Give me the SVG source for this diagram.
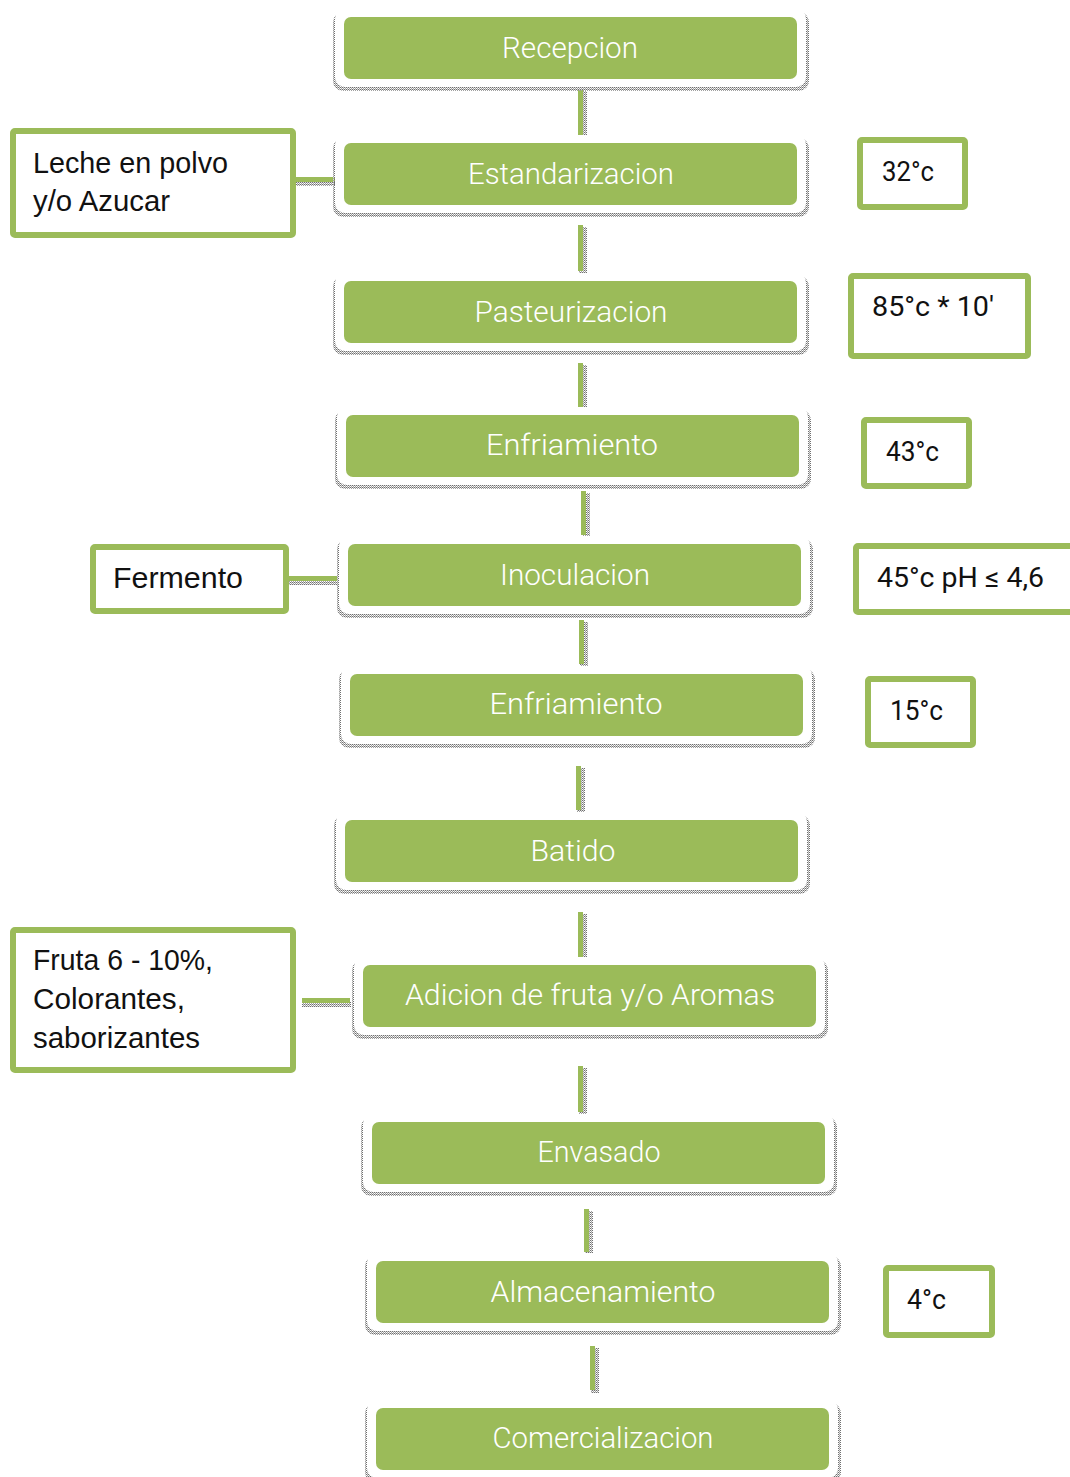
<svg xmlns="http://www.w3.org/2000/svg" width="1070" height="1477" viewBox="0 0 1070 1477">
<defs>
<pattern id="dots" width="2" height="2" patternUnits="userSpaceOnUse">
<rect x="0" y="0" width="1" height="1" fill="#707070"/>
<rect x="1" y="1" width="1" height="1" fill="#a0a0a0"/>
<rect x="1" y="0" width="1" height="1" fill="#d8d8d8"/>
</pattern>
<style>
.shadow{fill:url(#dots);}
.frame{fill:#ffffff;}
.step{fill:#9BBB59;}
.lbl{font-family:Roboto,"Liberation Sans",Arial,sans-serif;font-weight:300;font-size:29px;fill:#ffffff;text-anchor:middle;}
.side{fill:#ffffff;stroke:#9BBB59;stroke-width:6;}
.stxt{font-family:"Liberation Sans",Arial,sans-serif;font-size:29px;fill:#111111;}
.ttxt{font-family:Roboto,"Liberation Sans",Arial,sans-serif;font-size:28px;fill:#111111;}
.bar{fill:#9BBB59;}
</style>
</defs>
<rect width="1070" height="1477" fill="#ffffff"/>

<g id="connectors">
<rect class="shadow" x="579" y="91" width="8" height="47"/><rect class="bar" x="578" y="89" width="5" height="46"/>
<rect class="shadow" x="579" y="227" width="8" height="47"/><rect class="bar" x="578" y="225" width="5" height="46"/>
<rect class="shadow" x="579" y="365" width="8" height="46"/><rect class="bar" x="578" y="363" width="5" height="45"/>
<rect class="shadow" x="582" y="493" width="8" height="45"/><rect class="bar" x="581" y="491" width="5" height="44"/>
<rect class="shadow" x="580" y="622" width="8" height="45"/><rect class="bar" x="579" y="620" width="5" height="44"/>
<rect class="shadow" x="577" y="768" width="8" height="45"/><rect class="bar" x="576" y="766" width="5" height="44"/>
<rect class="shadow" x="579" y="914" width="8" height="46"/><rect class="bar" x="578" y="912" width="5" height="45"/>
<rect class="shadow" x="579" y="1068" width="8" height="47"/><rect class="bar" x="578" y="1066" width="5" height="46"/>
<rect class="shadow" x="585" y="1211" width="8" height="44"/><rect class="bar" x="584" y="1209" width="5" height="43"/>
<rect class="shadow" x="591" y="1348" width="8" height="45"/><rect class="bar" x="590" y="1346" width="5" height="44"/>
<rect class="shadow" x="296" y="180" width="49" height="6"/><rect class="bar" x="296" y="177" width="48" height="5"/>
<rect class="shadow" x="289" y="579" width="49" height="6"/><rect class="bar" x="289" y="576" width="48" height="5"/>
<rect class="shadow" x="302" y="1001" width="49" height="6"/><rect class="bar" x="302" y="998" width="48" height="5"/>
</g>

<g id="n1" transform="translate(344,17)">
<rect class="shadow" x="-11" y="-5" width="476" height="79" rx="10"/>
<rect class="frame" x="-9" y="-8" width="471" height="78" rx="10"/>
<rect class="step" x="0" y="0" width="453" height="62" rx="7"/>
<text class="lbl" x="226" y="41" textLength="136" lengthAdjust="spacingAndGlyphs">Recepcion</text>
</g>
<g id="n2" transform="translate(344,143)">
<rect class="shadow" x="-11" y="-5" width="476" height="79" rx="10"/>
<rect class="frame" x="-9" y="-8" width="471" height="78" rx="10"/>
<rect class="step" x="0" y="0" width="453" height="62" rx="7"/>
<text class="lbl" x="227" y="41" textLength="206" lengthAdjust="spacingAndGlyphs">Estandarizacion</text>
</g>
<g id="n3" transform="translate(344,281)">
<rect class="shadow" x="-11" y="-5" width="476" height="79" rx="10"/>
<rect class="frame" x="-9" y="-8" width="471" height="78" rx="10"/>
<rect class="step" x="0" y="0" width="453" height="62" rx="7"/>
<text class="lbl" x="227" y="41" textLength="193" lengthAdjust="spacingAndGlyphs">Pasteurizacion</text>
</g>
<g id="n4" transform="translate(346,415)">
<rect class="shadow" x="-11" y="-5" width="476" height="79" rx="10"/>
<rect class="frame" x="-9" y="-8" width="471" height="78" rx="10"/>
<rect class="step" x="0" y="0" width="453" height="62" rx="7"/>
<text class="lbl" x="226" y="40" textLength="172" lengthAdjust="spacingAndGlyphs">Enfriamiento</text>
</g>
<g id="n5" transform="translate(348,544)">
<rect class="shadow" x="-11" y="-5" width="476" height="79" rx="10"/>
<rect class="frame" x="-9" y="-8" width="471" height="78" rx="10"/>
<rect class="step" x="0" y="0" width="453" height="62" rx="7"/>
<text class="lbl" x="227" y="41" textLength="150" lengthAdjust="spacingAndGlyphs">Inoculacion</text>
</g>
<g id="n6" transform="translate(350,674)">
<rect class="shadow" x="-11" y="-5" width="476" height="79" rx="10"/>
<rect class="frame" x="-9" y="-8" width="471" height="78" rx="10"/>
<rect class="step" x="0" y="0" width="453" height="62" rx="7"/>
<text class="lbl" x="226" y="40" textLength="173" lengthAdjust="spacingAndGlyphs">Enfriamiento</text>
</g>
<g id="n7" transform="translate(345,820)">
<rect class="shadow" x="-11" y="-5" width="476" height="79" rx="10"/>
<rect class="frame" x="-9" y="-8" width="471" height="78" rx="10"/>
<rect class="step" x="0" y="0" width="453" height="62" rx="7"/>
<text class="lbl" x="228" y="41" textLength="85" lengthAdjust="spacingAndGlyphs">Batido</text>
</g>
<g id="n8" transform="translate(363,965)">
<rect class="shadow" x="-11" y="-5" width="476" height="79" rx="10"/>
<rect class="frame" x="-9" y="-8" width="471" height="78" rx="10"/>
<rect class="step" x="0" y="0" width="453" height="62" rx="7"/>
<text class="lbl" x="227" y="40" textLength="370" lengthAdjust="spacingAndGlyphs">Adicion de fruta  y/o Aromas</text>
</g>
<g id="n9" transform="translate(372,1122)">
<rect class="shadow" x="-11" y="-5" width="476" height="79" rx="10"/>
<rect class="frame" x="-9" y="-8" width="471" height="78" rx="10"/>
<rect class="step" x="0" y="0" width="453" height="62" rx="7"/>
<text class="lbl" x="227" y="40" textLength="123" lengthAdjust="spacingAndGlyphs">Envasado</text>
</g>
<g id="n10" transform="translate(376,1261)">
<rect class="shadow" x="-11" y="-5" width="476" height="79" rx="10"/>
<rect class="frame" x="-9" y="-8" width="471" height="78" rx="10"/>
<rect class="step" x="0" y="0" width="453" height="62" rx="7"/>
<text class="lbl" x="227" y="41" textLength="225" lengthAdjust="spacingAndGlyphs">Almacenamiento</text>
</g>
<g id="n11" transform="translate(376,1408)">
<rect class="shadow" x="-11" y="-5" width="476" height="79" rx="10"/>
<rect class="frame" x="-9" y="-8" width="471" height="78" rx="10"/>
<rect class="step" x="0" y="0" width="453" height="62" rx="7"/>
<text class="lbl" x="227" y="40" textLength="221" lengthAdjust="spacingAndGlyphs">Comercializacion</text>
</g>

<g id="s-leche">
<rect class="side" x="13" y="131" width="280" height="104" rx="2"/>
<text class="stxt" x="33" y="173" textLength="195" lengthAdjust="spacingAndGlyphs">Leche en polvo</text>
<text class="stxt" x="33" y="211" textLength="137" lengthAdjust="spacingAndGlyphs">y/o Azucar</text>
</g>
<g id="s-fermento">
<rect class="side" x="93" y="547" width="193" height="64" rx="2"/>
<text class="stxt" x="113" y="588" textLength="130" lengthAdjust="spacingAndGlyphs">Fermento</text>
</g>
<g id="s-fruta">
<rect class="side" x="13" y="930" width="280" height="140" rx="2"/>
<text class="stxt" x="33" y="970" textLength="180" lengthAdjust="spacingAndGlyphs">Fruta 6 - 10%,</text>
<text class="stxt" x="33" y="1009" textLength="152" lengthAdjust="spacingAndGlyphs">Colorantes,</text>
<text class="stxt" x="33" y="1048" textLength="167" lengthAdjust="spacingAndGlyphs">saborizantes</text>
</g>

<g id="t-32">
<rect class="side" x="860" y="140" width="105" height="67" rx="2"/>
<text class="ttxt" x="882" y="181" textLength="52" lengthAdjust="spacingAndGlyphs">32°c</text>
</g>
<g id="t-85">
<rect class="side" x="851" y="276" width="177" height="80" rx="2"/>
<text class="ttxt" x="872" y="316" textLength="122" lengthAdjust="spacingAndGlyphs">85°c * 10'</text>
</g>
<g id="t-43">
<rect class="side" x="864" y="420" width="105" height="66" rx="2"/>
<text class="ttxt" x="886" y="461" textLength="53" lengthAdjust="spacingAndGlyphs">43°c</text>
</g>
<g id="t-45">
<rect class="side" x="856" y="546" width="230" height="66" rx="2"/>
<text class="ttxt" x="877" y="587" textLength="167" lengthAdjust="spacingAndGlyphs">45°c pH ≤ 4,6</text>
</g>
<g id="t-15">
<rect class="side" x="868" y="679" width="105" height="66" rx="2"/>
<text class="ttxt" x="890" y="720" textLength="53" lengthAdjust="spacingAndGlyphs">15°c</text>
</g>
<g id="t-4">
<rect class="side" x="886" y="1268" width="106" height="67" rx="2"/>
<text class="ttxt" x="907" y="1309" textLength="39" lengthAdjust="spacingAndGlyphs">4°c</text>
</g>
</svg>
